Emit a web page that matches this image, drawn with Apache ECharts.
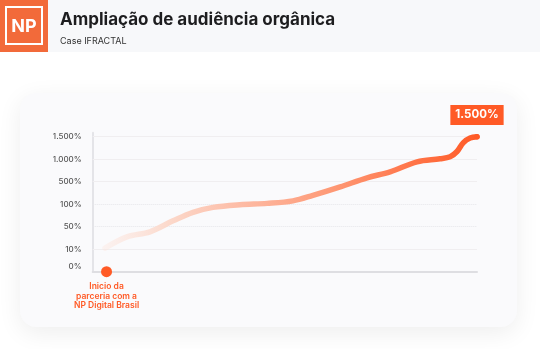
<!DOCTYPE html>
<html>
<head>
<meta charset="utf-8">
<script src="https://cdn.jsdelivr.net/npm/echarts@6/dist/echarts.min.js"></script>
<style>
html,body{margin:0;padding:0;background:#ffffff;}
#c{width:540px;height:349px;}
</style>
</head>
<body>
<div id="c"></div>
<script>
// ---- data ----
const titleText = 'Ampliação de audiência orgânica';
const subtitleText = 'Case IFRACTAL';
const tickValues = [0, 10, 50, 100, 500, 1000, 1500];
const tickLabels = ['0%', '10%', '50%', '100%', '500%', '1.000%', '1.500%'];
// time position (0..100 along the x axis) and audience growth in %
const timePos = [3.2, 8.9, 14.9, 20.9, 26.1, 31.3, 38.3, 45.4, 52.1, 57.3, 64.4, 71.4, 77.4, 84.4, 90.4, 93.0, 94.8, 96.4, 98.2, 100];
const growthPct = [12, 32, 41, 63, 82, 93, 99, 115, 160, 258, 409, 587, 720, 943, 1010, 1055, 1172, 1365, 1470, 1500];
const startPos = 3.6;
const startPct = 0;
const startLabel = 'Inicio da\nparceria com a\nNP Digital Brasil';
const endLabel = '1.500%';

// the y axis is evenly spaced between tick values (not linear in %)
function toAxis(v) {
  for (let i = 0; i < tickValues.length - 1; i++) {
    if (v <= tickValues[i + 1]) {
      return i + (v - tickValues[i]) / (tickValues[i + 1] - tickValues[i]);
    }
  }
  return tickValues.length - 1;
}

const lineData = timePos.map((x, i) => [x, toAxis(growthPct[i])]);
const lastIdx = timePos.length - 1;

const ORANGE = '#FF5A26';
const font = 'Inter';

const chart = echarts.init(document.getElementById('c'), null, { renderer: 'canvas' });
chart.setOption({
  backgroundColor: '#ffffff',
  animation: false,
  graphic: [
    { type: 'rect', z: 0, shape: { x: 0, y: 0, width: 540, height: 52 }, style: { fill: '#F7F8FA' } },
    { type: 'rect', z: 0, shape: { x: 20, y: 93, width: 497, height: 234, r: 16 },
      style: { fill: '#FAFAFC', shadowBlur: 24, shadowColor: 'rgba(0,0,0,0.07)', shadowOffsetY: 6 } },
    { type: 'rect', z: 1, shape: { x: 0, y: 0, width: 48, height: 52 }, style: { fill: '#F26A3A' } },
    { type: 'rect', z: 1, shape: { x: 6, y: 7, width: 36, height: 37 }, style: { fill: 'none', stroke: '#fff', lineWidth: 2 } },
    { type: 'text', z: 2, x: 24, y: 26.5, style: { text: 'NP', fill: '#fff', font: '700 18px Inter', align: 'center', verticalAlign: 'middle' } },
    { type: 'text', z: 2, x: 60, y: 20, style: { text: titleText, fill: '#1d1d1f', font: '700 17px Inter', verticalAlign: 'middle' } },
    { type: 'text', z: 2, x: 60, y: 41, style: { text: subtitleText, fill: '#333', font: '400 9px Inter', verticalAlign: 'middle' } }
  ],
  grid: { left: 92.7, right: 63, top: 132.7, bottom: 77.3, containLabel: false },
  xAxis: {
    type: 'value', min: 0, max: 100,
    axisLine: { show: true, lineStyle: { color: '#DEDEE2', width: 2 } },
    axisTick: { show: false }, axisLabel: { show: false }, splitLine: { show: false }
  },
  yAxis: {
    type: 'value', min: 0, max: 6.18, interval: 1,
    axisLine: { show: true, lineStyle: { color: '#E4E4E8', width: 2 } },
    axisTick: { show: false },
    splitLine: { show: false },
    axisLabel: {
      margin: 11, color: '#555', fontFamily: font, fontSize: 8, fontWeight: 500,
      formatter: function (v) {
        if (Math.abs(v - Math.round(v)) > 1e-6) return '';
        const i = Math.round(v);
        if (i === 0) return '{z|' + tickLabels[0] + '}';
        return tickLabels[i] || '';
      },
      rich: { z: { padding: [0, 0, 10, 0], color: '#555', fontFamily: font, fontSize: 8, fontWeight: 500 } }
    }
  },
  series: [
    {
      type: 'line', silent: true, data: [], symbol: 'none',
      markLine: {
        silent: true, symbol: 'none', label: { show: false },
        data: tickValues.slice(1).map((v, k) => {
          const i = k + 1;
          const dotted = (i === 2 || i === 3);
          return { yAxis: i, lineStyle: { color: dotted ? '#E6E6EA' : '#F0EEF0', width: 1, type: dotted ? 'dotted' : 'solid' } };
        })
      }
    },
    {
      type: 'line', data: lineData, smooth: 0.35, symbol: 'none', showSymbol: false,
      lineStyle: {
        width: 5.5, cap: 'round', join: 'round',
        color: new echarts.graphic.LinearGradient(0, 0, 1, 0, [
          { offset: 0, color: 'rgba(253,225,215,0.3)' },
          { offset: 0.18, color: '#FCD8CA' },
          { offset: 0.36, color: '#FDBCA6' },
          { offset: 0.6, color: '#FE9A77' },
          { offset: 0.8, color: '#FF784D' },
          { offset: 1, color: ORANGE }
        ])
      },
      z: 5
    },
    {
      type: 'scatter', data: [lineData[lastIdx]], symbolSize: 5.5,
      itemStyle: { color: ORANGE, opacity: 1 }, z: 6,
      label: {
        show: true, position: 'top', distance: 9,
        formatter: endLabel,
        backgroundColor: ORANGE, color: '#fff',
        fontFamily: font, fontWeight: 700, fontSize: 11.5,
        padding: [4, 5, 4, 5]
      }
    },
    {
      type: 'scatter', data: [[startPos, toAxis(startPct)]], symbolSize: 11,
      itemStyle: { color: ORANGE, opacity: 1 }, z: 6,
      label: {
        show: true, position: 'bottom', distance: 5, formatter: startLabel,
        color: ORANGE, fontFamily: font, fontSize: 8.5, fontWeight: 600, lineHeight: 9.2, align: 'center'
      }
    }
  ]
});
</script>
</body>
</html>
